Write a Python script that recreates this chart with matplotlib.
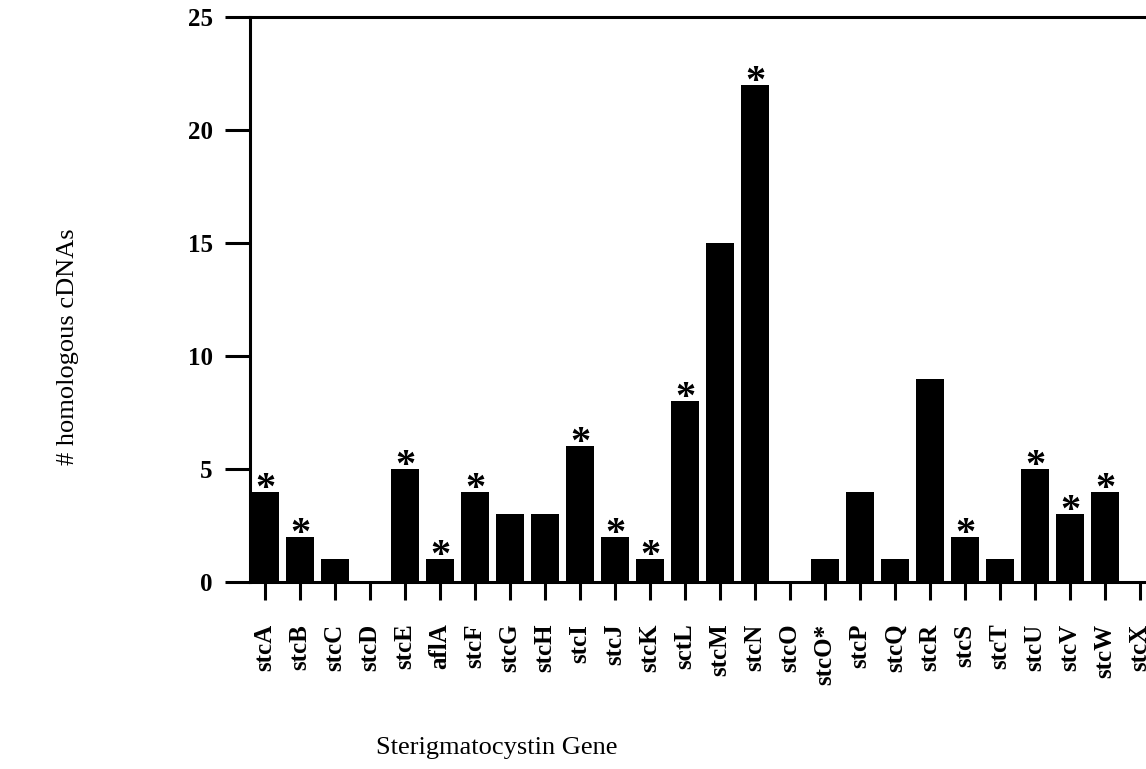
import matplotlib
matplotlib.use("Agg")
import matplotlib.pyplot as plt

# donnees
genes = ['stcA', 'stcB', 'stcC', 'stcD', 'stcE', 'aflA', 'stcF', 'stcG', 'stcH',
         'stcI', 'stcJ', 'stcK', 'sctL', 'stcM', 'stcN', 'stcO', 'stcO*', 'stcP',
         'stcQ', 'stcR', 'stcS', 'stcT', 'stcU', 'stcV', 'stcW', 'stcX']
n_cdnas = [4, 2, 1, 0, 5, 1, 4, 3, 3, 6, 2, 1, 8, 15, 22, 0, 1, 4, 1, 9, 2, 1, 5, 3, 4, 0]
marque = [True, True, False, False, True, True, True, False, False, True, True, True,
          True, False, True, False, False, False, False, False, True, False, True,
          True, True, False]
y_ticks = [0, 5, 10, 15, 20, 25]

serif = 'Liberation Serif'

fig = plt.figure(figsize=(11.46, 7.69), dpi=100)
ax = fig.add_axes([0.2182, 0.2432, 0.792, 0.7347])

x = list(range(len(genes)))
ax.bar(x, n_cdnas, width=0.8, color='black')

# asterisques au-dessus des barres marquees
for i, v in enumerate(n_cdnas):
    if marque[i]:
        ax.annotate('*', xy=(i, v), xytext=(0, -5), textcoords='offset points',
                    ha='center', va='baseline', fontsize=29,
                    fontweight='bold', family=serif)

ax.set_xlim(-0.43, 25.5)
ax.set_ylim(0, 25)
ax.set_yticks(y_ticks)
ax.set_yticklabels([str(t) for t in y_ticks], fontweight='bold', family=serif, fontsize=18)
ax.set_xticks(x)
ax.set_xticklabels(genes, rotation=90, fontweight='bold', family=serif, fontsize=18)

ax.spines['right'].set_visible(False)
for s in ['left', 'top', 'bottom']:
    ax.spines[s].set_linewidth(2.2)

ax.tick_params(axis='y', direction='out', length=18, width=2.2, pad=9)
ax.tick_params(axis='x', direction='out', length=13, width=2.2, pad=17)

fig.text(68 / 1146, 1 - 347 / 769, '# homologous cDNAs', rotation=90,
         ha='center', va='center', fontsize=19, family=serif)
fig.text(497 / 1146, 1 - 748 / 769, 'Sterigmatocystin Gene',
         ha='center', va='center', fontsize=19, family=serif)

fig.savefig('out.png', dpi=100)
plt.close(fig)
